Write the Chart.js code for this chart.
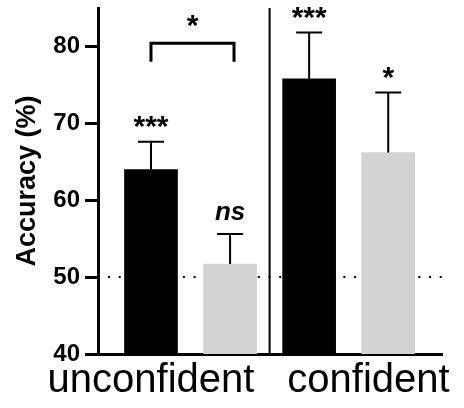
<!DOCTYPE html>
<html lang="en">
<head>
  <meta charset="UTF-8">
  <title>Accuracy by confidence</title>
  <script src="https://cdn.jsdelivr.net/npm/chart.js"></script>
  <style>
    body { margin: 0; background: #fff; }
    canvas { display: block; }
  </style>
</head>
<body>
  <canvas id="chart" width="464" height="408"></canvas>
  <script>
    // values
    const barPositions = [1, 2, 3, 4];
    const meanAccuracy = [64.0, 51.7, 75.8, 66.2];
    const errorUpper = [67.6, 55.6, 81.8, 74.0];
    const sigLabels = ['***', 'ns', '***', '*'];
    const groupLabels = ['unconfident', 'confident'];
    const groupLabelPositions = [1.0, 3.75];
    const yTicks = [40, 50, 60, 70, 80];
    const chanceLevel = 50;
    const groupDivider = 2.5;
    const pairBars = [1, 2.05];
    const pairLevels = [80.4, 78.0];
    const pairLabel = '*';

    const FONT = "'Liberation Sans', Arial, sans-serif";
    Chart.defaults.font.family = FONT;
    Chart.defaults.color = '#000';

    const extras = {
      id: 'extras',
      beforeDatasetsDraw(chart) {
        const { ctx, chartArea, scales: { x, y } } = chart;
        ctx.save();
        // chance level
        ctx.strokeStyle = '#000';
        ctx.lineWidth = 2;
        ctx.setLineDash([2, 8.7]);
        const yc = y.getPixelForValue(chanceLevel);
        ctx.beginPath();
        ctx.moveTo(chartArea.left + 10, yc);
        ctx.lineTo(chartArea.right, yc);
        ctx.stroke();
        ctx.setLineDash([]);
        // divider between groups
        const xd = x.getPixelForValue(groupDivider);
        ctx.beginPath();
        ctx.moveTo(xd, chartArea.top);
        ctx.lineTo(xd, chartArea.bottom);
        ctx.stroke();
        ctx.restore();
      },
      afterDatasetsDraw(chart) {
        const { ctx, scales: { x, y } } = chart;
        const meta = chart.getDatasetMeta(0);
        ctx.save();
        ctx.strokeStyle = '#000';
        ctx.fillStyle = '#000';
        ctx.textAlign = 'center';
        ctx.textBaseline = 'alphabetic';
        meta.data.forEach((bar, i) => {
          const top = y.getPixelForValue(errorUpper[i]);
          ctx.lineWidth = 2;
          ctx.beginPath();
          ctx.moveTo(bar.x, bar.y);
          ctx.lineTo(bar.x, top);
          ctx.moveTo(bar.x - 13, top);
          ctx.lineTo(bar.x + 13, top);
          ctx.stroke();
          const lab = sigLabels[i];
          ctx.font = lab === 'ns' ? 'italic bold 26px ' + FONT : 'bold 30px ' + FONT;
          const m = ctx.measureText(lab);
          ctx.fillText(lab, bar.x, top - 14 - m.actualBoundingBoxDescent);
        });
        // comparison bracket
        const x1 = x.getPixelForValue(pairBars[0]);
        const x2 = x.getPixelForValue(pairBars[1]);
        const yb = y.getPixelForValue(pairLevels[0]);
        const yl = y.getPixelForValue(pairLevels[1]);
        ctx.lineWidth = 3;
        ctx.beginPath();
        ctx.moveTo(x1, yl);
        ctx.lineTo(x1, yb);
        ctx.lineTo(x2, yb);
        ctx.lineTo(x2, yl);
        ctx.stroke();
        ctx.font = 'bold 30px ' + FONT;
        const m = ctx.measureText(pairLabel);
        ctx.fillText(pairLabel, (x1 + x2) / 2, yb - 16 - m.actualBoundingBoxDescent);
        ctx.restore();
      }
    };

    new Chart(document.getElementById('chart'), {
      type: 'bar',
      data: {
        datasets: [{
          data: barPositions.map((p, i) => ({ x: p, y: meanAccuracy[i] })),
          backgroundColor: ['#000000', '#d3d3d3', '#000000', '#d3d3d3'],
          borderWidth: 0,
          barThickness: 53
        }]
      },
      options: {
        responsive: false,
        animation: false,
        layout: { padding: { left: 0, right: 22, top: 8, bottom: 0 } },
        plugins: { legend: { display: false }, tooltip: { enabled: false } },
        scales: {
          x: {
            type: 'linear',
            offset: false,
            min: 0.33,
            max: 4.68,
            afterFit: s => { s.height = 54; },
            afterBuildTicks: s => { s.ticks = groupLabelPositions.map(v => ({ value: v })); },
            grid: { display: false, drawTicks: false, offset: false },
            border: { display: true, color: '#000', width: 3 },
            ticks: {
              autoSkip: false,
              maxRotation: 0,
              padding: 3,
              font: { size: 40 },
              color: '#000',
              callback: (v, i) => groupLabels[i]
            }
          },
          y: {
            min: 40,
            max: 85,
            afterFit: s => { s.width = 98; s.paddingTop = 0; s.paddingBottom = 0; },
            afterBuildTicks: s => { s.ticks = yTicks.map(v => ({ value: v })); },
            grid: { drawOnChartArea: false, tickLength: 13, tickWidth: 3, color: '#000' },
            border: { display: true, color: '#000', width: 3 },
            ticks: { padding: 5, font: { size: 24, weight: 'bold' }, color: '#000' },
            title: {
              display: true,
              text: 'Accuracy (%)',
              color: '#000',
              font: { size: 27, weight: 'bold' },
              padding: { top: 11, bottom: 0 }
            }
          }
        }
      },
      plugins: [extras]
    });
  </script>
</body>
</html>
